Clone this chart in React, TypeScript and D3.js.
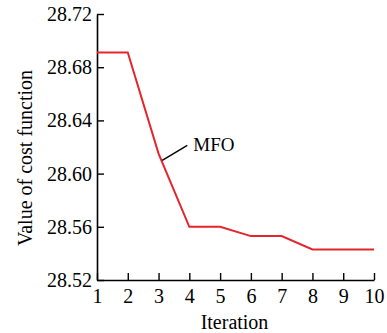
import { useEffect, useRef } from 'react';
import { axisBottom, axisLeft, line, scaleLinear, select } from 'd3';

const iterations = [1, 2, 3, 4, 5, 6, 7, 8, 9, 10];
const costValues = [28.691, 28.691, 28.615, 28.56, 28.56, 28.553, 28.553, 28.543, 28.543, 28.543];
const yTicks = [28.52, 28.56, 28.6, 28.64, 28.68, 28.72];
const seriesName = 'MFO';

const FONT = '"Liberation Serif", "Times New Roman", serif';

export default function App() {
  const ref = useRef<SVGSVGElement>(null);

  useEffect(() => {
    const el = ref.current;
    if (!el) return;
    const svg = select(el);
    svg.selectAll('*').remove();

    const margin = { top: 14, left: 97 };
    const width = 277;
    const height = 266;

    const g = svg.append('g').attr('transform', `translate(${margin.left},${margin.top})`);

    const x = scaleLinear().domain([1, 10]).range([0, width]);
    const y = scaleLinear().domain([28.52, 28.72]).range([height, 0]);

    // x axis, ticks point inward
    g.append('g')
      .attr('transform', `translate(0,${height})`)
      .call(axisBottom(x).tickValues(iterations).tickSizeInner(-7).tickSizeOuter(0).tickPadding(9).tickFormat((d) => String(d)))
      .call((a) => {
        a.select('.domain').attr('stroke-width', 1.6);
        a.selectAll('line').attr('stroke-width', 1.4);
        a.selectAll('text').attr('font-family', FONT).attr('font-size', 20).attr('fill', '#000');
      });

    // y axis
    g.append('g')
      .call(axisLeft(y).tickValues(yTicks).tickSizeInner(-7).tickSizeOuter(0).tickPadding(5).tickFormat((d) => (d as number).toFixed(2)))
      .call((a) => {
        a.select('.domain').attr('stroke-width', 1.6);
        a.selectAll('line').attr('stroke-width', 1.4);
        a.selectAll('text').attr('font-family', FONT).attr('font-size', 20).attr('fill', '#000');
      });

    const pts = iterations.map((it, i) => [it, costValues[i]] as [number, number]);
    g.append('path')
      .datum(pts)
      .attr('fill', 'none')
      .attr('stroke', '#e3262b')
      .attr('stroke-width', 2)
      .attr('d', line<[number, number]>().x((d) => x(d[0])).y((d) => y(d[1])));

    // annotation
    const ax = x(3.12);
    const ay = y(28.61);
    g.append('line')
      .attr('x1', ax)
      .attr('y1', ay)
      .attr('x2', ax + 25)
      .attr('y2', ay - 15)
      .attr('stroke', '#000')
      .attr('stroke-width', 1.4);
    g.append('text')
      .attr('x', ax + 31)
      .attr('y', ay - 9)
      .attr('font-family', FONT)
      .attr('font-size', 19)
      .text(seriesName);

    svg.append('text')
      .attr('x', margin.left + width / 2 - 1)
      .attr('y', 329)
      .attr('text-anchor', 'middle')
      .attr('font-family', FONT)
      .attr('font-size', 20)
      .text('Iteration');

    svg.append('text')
      .attr('transform', 'translate(32,158) rotate(-90)')
      .attr('text-anchor', 'middle')
      .attr('font-family', FONT)
      .attr('font-size', 20)
      .text('Value of cost function');
  }, []);

  return (
    <svg
      ref={ref}
      width={387}
      height={333}
      style={{ position: 'absolute', left: 0, top: 0, background: '#fff' }}
    />
  );
}
